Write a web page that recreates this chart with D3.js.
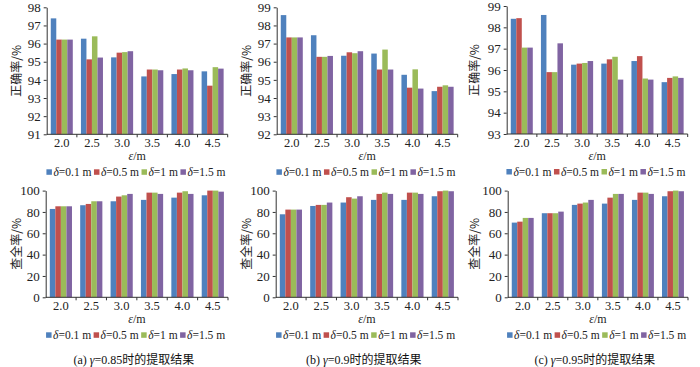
<!DOCTYPE html>
<html><head><meta charset="utf-8">
<script src="https://cdn.jsdelivr.net/npm/d3@7/dist/d3.min.js"></script>
<style>body{margin:0;background:#fff} svg{display:block}</style>
</head><body>
<svg id="chart" width="700" height="367"></svg>
<script>
// ---------- data ----------
const categories = ["2.0","2.5","3.0","3.5","4.0","4.5"];
const seriesLabels = ["0.1 m","0.5 m","1 m","1.5 m"];
const seriesColors = ["#4F81BD","#C0504D","#9BBB59","#8064A2"];

const accTicks085 = [91,92,93,94,95,96,97,98];
const accTicks090 = [92,93,94,95,96,97,98,99];
const accTicks095 = [93,94,95,96,97,98,99];
const recallTicks = [0,20,40,60,80,100];

// accuracy (正确率) — one row per δ series
const acc085 = [
  [97.39, 96.27, 95.24, 94.19, 94.32, 94.47],
  [96.22, 95.13, 95.50, 94.57, 94.57, 93.68],
  [96.22, 96.40, 95.53, 94.57, 94.63, 94.70],
  [96.22, 95.23, 95.58, 94.53, 94.53, 94.62]
];
const acc090 = [
  [98.57, 97.46, 96.33, 96.45, 95.28, 94.38],
  [97.34, 96.27, 96.52, 95.57, 94.57, 94.62],
  [97.34, 96.27, 96.47, 96.67, 95.58, 94.70],
  [97.34, 96.32, 96.58, 95.57, 94.52, 94.62]
];
const acc095 = [
  [98.40, 98.58, 96.25, 96.30, 96.42, 95.43],
  [98.43, 95.90, 96.30, 96.50, 96.65, 95.63],
  [97.05, 95.90, 96.33, 96.62, 95.60, 95.70],
  [97.05, 97.25, 96.42, 95.55, 95.55, 95.63]
];
// recall (查全率)
const rec085 = [
  [82.8, 86.3, 90.0, 91.3, 93.4, 95.6],
  [85.3, 87.5, 94.4, 98.1, 98.1, 100.0],
  [85.3, 90.0, 95.6, 98.1, 99.4, 100.0],
  [85.3, 90.0, 96.9, 96.9, 96.9, 99.0]
];
const rec090 = [
  [77.8, 85.6, 88.8, 91.3, 91.3, 94.7],
  [82.2, 86.6, 93.8, 96.9, 98.1, 99.4],
  [82.2, 86.6, 92.5, 98.1, 98.1, 100.0],
  [82.2, 88.8, 94.7, 96.9, 96.9, 99.4]
];
const rec095 = [
  [70.0, 78.8, 86.6, 87.8, 91.3, 94.7],
  [70.9, 78.8, 87.8, 93.4, 98.1, 99.4],
  [74.4, 78.8, 88.8, 96.9, 98.1, 100.0],
  [74.4, 80.3, 91.3, 96.9, 96.9, 99.4]
];
const captions = [["(a) ","0.85"],["(b) ","0.9"],["(c) ","0.95"]];

// ---------- layout ----------
const SERIF = "'Liberation Serif','Times New Roman','Noto Sans CJK SC',serif";
const svg = d3.select("#chart");

const panels = [
  {values: acc085, ticks: accTicks085, x0: 46.7, x1: 227.7, top: 7.3, bottom: 134.3, title: "正确率/%", tx: 15, col: 0},
  {values: acc090, ticks: accTicks090, x0: 276.7, x1: 457.7, top: 7.3, bottom: 134.3, title: "正确率/%", tx: 245, col: 1},
  {values: acc095, ticks: accTicks095, x0: 506.7, x1: 687.7, top: 6, bottom: 134, title: "正确率/%", tx: 473, col: 2},
  {values: rec085, ticks: recallTicks, x0: 45.7, x1: 228, top: 190.6, bottom: 297.3, title: "查全率/%", tx: 15, col: 0, caption: true},
  {values: rec090, ticks: recallTicks, x0: 275.7, x1: 458, top: 190.6, bottom: 297.3, title: "查全率/%", tx: 245, col: 1, caption: true},
  {values: rec095, ticks: recallTicks, x0: 507.7, x1: 688, top: 190.6, bottom: 297.3, title: "查全率/%", tx: 473, col: 2, caption: true}
];

panels.forEach(p => {
  const g = svg.append("g");
  const x = d3.scaleBand().domain(categories).range([p.x0, p.x1]).paddingInner(0.27).paddingOuter(0.135);
  const xs = d3.scaleBand().domain(d3.range(seriesLabels.length)).range([0, x.bandwidth()]);
  const y = d3.scaleLinear().domain([p.ticks[0], p.ticks[p.ticks.length-1]]).range([p.bottom, p.top]);

  // bars
  p.values.forEach((row, si) => {
    g.append("g").selectAll("rect").data(row).join("rect")
      .attr("x", (d, i) => x(categories[i]) + xs(si))
      .attr("y", d => y(d))
      .attr("width", xs.bandwidth())
      .attr("height", d => y(p.ticks[0]) - y(d))
      .attr("fill", seriesColors[si]);
  });

  // y axis
  const ya = g.append("g").attr("transform", `translate(${p.x0},0)`)
    .call(d3.axisLeft(y).tickValues(p.ticks).tickSize(3).tickSizeOuter(0).tickPadding(3).tickFormat(d3.format("d")));
  ya.select(".domain").attr("stroke", "#333");
  ya.selectAll(".tick line").attr("stroke", "#333");
  ya.selectAll("text").attr("font-family", SERIF).attr("font-size", 13).attr("fill", "#222");

  // x axis
  const xa = g.append("g").attr("transform", `translate(0,${p.bottom})`)
    .call(d3.axisBottom(x).tickSize(0).tickPadding(4));
  xa.select(".domain").attr("stroke", "#333").attr("d", `M${p.x0},0H${p.x1}`);
  xa.selectAll("text").attr("font-family", SERIF).attr("font-size", 12.5).attr("fill", "#222");
  const bounds = categories.map(c => x(c) + x.bandwidth() + x.step() * x.paddingInner() / 2);
  xa.selectAll(".bnd").data(bounds).join("line").attr("class", "bnd")
    .attr("x1", d => d).attr("x2", d => d).attr("y1", 0).attr("y2", 3).attr("stroke", "#333");

  const cx = (p.x0 + p.x1) / 2;
  // x title
  const xt = g.append("text").attr("x", cx).attr("y", p.bottom + 26).attr("text-anchor", "middle")
    .attr("font-family", SERIF).attr("font-size", 12).attr("fill", "#222");
  xt.append("tspan").attr("font-style", "italic").text("ε");
  xt.append("tspan").text("/m");

  // y title
  g.append("text").attr("transform", `translate(${p.tx},${(p.top + p.bottom) / 2}) rotate(-90)`)
    .attr("text-anchor", "middle").attr("dominant-baseline", "central")
    .attr("font-family", "'Noto Sans CJK SC',sans-serif").attr("font-size", 12).attr("fill", "#222")
    .text(p.title);

  // legend
  const lg = g.append("g");
  let lx = 0;
  const ly = p.bottom + 38;
  seriesLabels.forEach((lab, si) => {
    lg.append("rect").attr("x", lx).attr("y", ly - 3).attr("width", 5.5).attr("height", 5.5).attr("fill", seriesColors[si]);
    const t = lg.append("text").attr("x", lx + 7).attr("y", ly + 4)
      .attr("font-family", SERIF).attr("font-size", 11.5).attr("fill", "#222");
    t.append("tspan").attr("font-style", "italic").text("δ");
    t.append("tspan").text("=" + lab);
    lx += 7 + t.node().getComputedTextLength() + 2.5;
  });
  lg.attr("transform", `translate(${cx - lx / 2},0)`);

  // caption
  if (p.caption) {
    const cap = captions[p.col];
    const ct = g.append("text").attr("x", cx - 3).attr("y", 364).attr("text-anchor", "middle")
      .attr("font-family", SERIF).attr("font-size", 12).attr("fill", "#111");
    ct.append("tspan").text(cap[0]);
    ct.append("tspan").attr("font-style", "italic").text("γ");
    ct.append("tspan").text("=" + cap[1]);
    ct.append("tspan").attr("font-family", "'Noto Sans CJK SC',sans-serif").text("时的提取结果");
  }
});
</script>
</body></html>
